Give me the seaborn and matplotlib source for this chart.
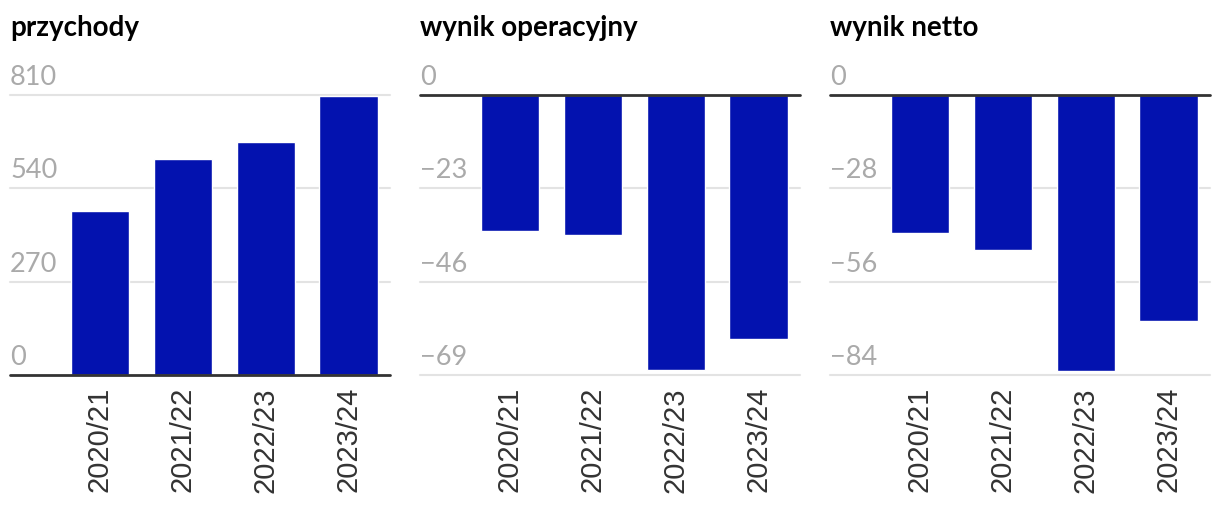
import matplotlib
matplotlib.use("Agg")
import matplotlib.pyplot as plt
import seaborn as sns
import pandas as pd

# -----------------------------
# DATA
# -----------------------------
years = ["2020/21", "2021/22", "2022/23", "2023/24"]
przychody = [474, 625, 674, 807]
wynik_operacyjny = [-33.6, -34.4, -67.8, -60.1]
wynik_netto = [-41.5, -46.4, -82.8, -67.7]

titles = ["przychody", "wynik operacyjny", "wynik netto"]
ticks_przychody = [0, 270, 540, 810]
ticks_operacyjny = [0, -23, -46, -69]
ticks_netto = [0, -28, -56, -84]

# -----------------------------
# STYLE
# -----------------------------
sns.set_theme(style="white")
plt.rcParams["font.family"] = ["Lato", "DejaVu Sans"]

BAR_COLOR = "#0312af"
GRID_COLOR = "#e3e3e3"
ZERO_COLOR = "#333333"
LABEL_COLOR = "#aaaaaa"

fig = plt.figure(figsize=(12.2, 5.06), dpi=100)

lefts = [10, 420, 830]
panels = [
    (przychody, ticks_przychody),
    (wynik_operacyjny, ticks_operacyjny),
    (wynik_netto, ticks_netto),
]

for left, title, (values, ticks) in zip(lefts, titles, panels):
    ax = fig.add_axes([left / 1220, 1 - 376 / 506, 380 / 1220, 280 / 506])
    df = pd.DataFrame({"rok": years, "wartosc": values})
    sns.barplot(data=df, x="rok", y="wartosc", color=BAR_COLOR,
                saturation=1, width=0.7, ax=ax, zorder=3)

    ax.set_xlim(-1.08, 3.5)
    ax.set_ylim(min(ticks), max(ticks))
    for s in ax.spines.values():
        s.set_visible(False)

    # gridlines + labels above them
    for t in ticks:
        if t == 0:
            ax.axhline(t, color=ZERO_COLOR, lw=2, zorder=4, clip_on=False)
        else:
            ax.axhline(t, color=GRID_COLOR, lw=1.5, zorder=1, clip_on=False)
        lab = str(t).replace("-", "\u2212")
        ax.annotate(lab, xy=(0, t), xycoords=ax.get_yaxis_transform(),
                    xytext=(0, 8), textcoords="offset points",
                    ha="left", va="baseline", fontsize=19.5,
                    color=LABEL_COLOR, annotation_clip=False)

    ax.set_yticks([])
    ax.set_xlabel("")
    ax.set_ylabel("")
    ax.tick_params(axis="x", length=0, pad=8, labelrotation=90,
                   labelsize=21, labelcolor="#333333",
                   labelfontfamily="Liberation Sans")

    fig.text(left / 1220, 1 - 36 / 506, title, fontsize=20,
             fontweight="bold", color="black", ha="left", va="baseline")

fig.savefig("out.png", dpi=100)
